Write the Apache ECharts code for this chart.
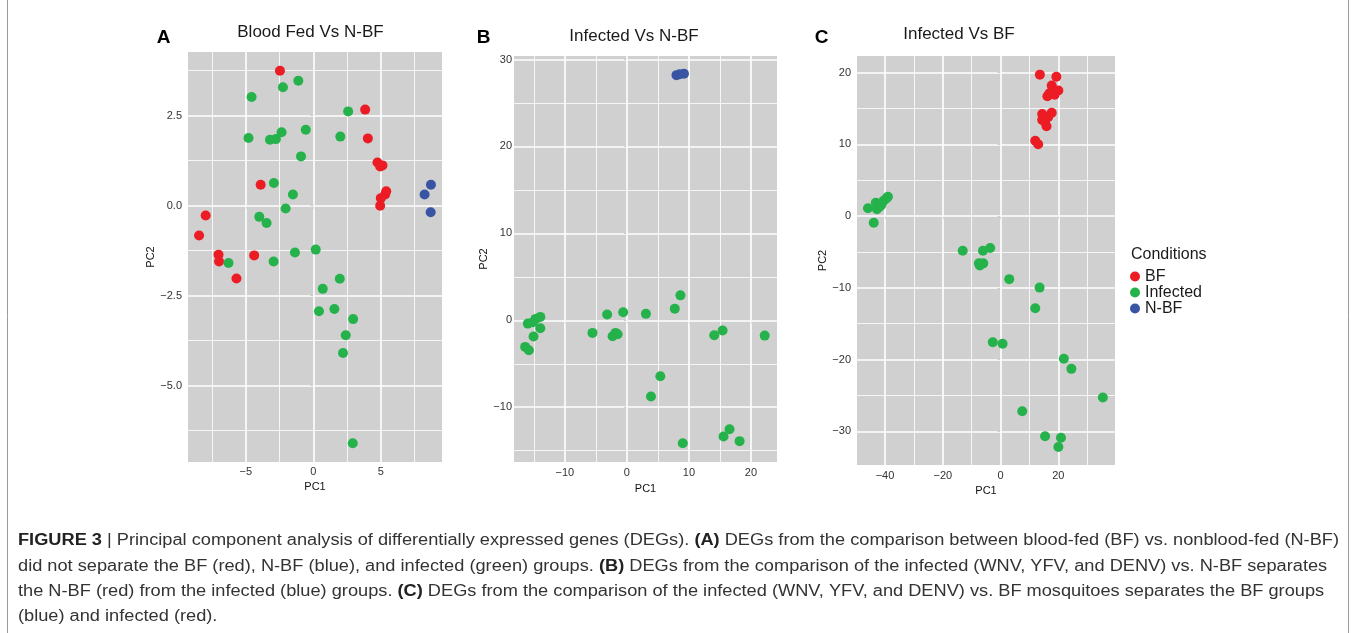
<!DOCTYPE html>
<html><head><meta charset="utf-8">
<script src="https://cdn.jsdelivr.net/npm/echarts@6/dist/echarts.min.js"></script>
<style>html,body{margin:0;padding:0;background:#fff}#c{width:1356px;height:633px}</style>
</head><body><div id="c"></div>
<script>
// ---------------- DATA ----------------
const groupNames = ['BF', 'Infected', 'N-BF'];

// Panel A: Blood Fed Vs N-BF
const aTitle = 'Blood Fed Vs N-BF';
const aBF = [[-2.47,3.75],[3.84,2.67],[4.04,1.87],[4.75,1.20],[4.95,1.09],[5.12,1.12],[5.40,0.40],[5.32,0.31],[5.0,0.21],[4.95,0.0],[-3.9,0.58],[-7.97,-0.27],[-8.46,-0.83],[-7.02,-1.36],[-6.98,-1.55],[-5.69,-2.02],[-4.38,-1.38]];
const aInfected = [[-4.57,3.02],[-2.25,3.29],[-1.11,3.47],[2.58,2.62],[-4.8,1.88],[-3.21,1.83],[-2.77,1.85],[-2.35,2.04],[-0.56,2.11],[2.0,1.92],[-0.91,1.37],[-2.92,0.63],[-1.51,0.31],[-2.05,-0.08],[-4.0,-0.31],[-3.46,-0.48],[-1.36,-1.30],[0.18,-1.22],[-2.94,-1.55],[-6.28,-1.59],[1.96,-2.03],[0.70,-2.31],[0.42,-2.93],[1.56,-2.87],[2.95,-3.15],[2.40,-3.60],[2.2,-4.09],[2.92,-6.6]];
const aNBF = [[8.71,0.58],[8.24,0.31],[8.69,-0.18]];
const aXTicks = [-5, 0, 5];
const aYTicks = [-5, -2.5, 0, 2.5];
const aXMinor = [-7.5, -2.5, 2.5, 7.5];
const aYMinor = [-6.25, -3.75, -1.25, 1.25, 3.75];

// Panel B: Infected Vs N-BF
const bTitle = 'Infected Vs N-BF';
const bInfected = [[-15.97,-0.38],[-15.16,-0.23],[-14.72,0.16],[-13.96,0.39],[-13.96,-0.92],[-15.05,-1.87],[-16.4,-3.06],[-15.8,-3.45],[-5.55,-1.45],[-3.18,0.66],[-0.6,0.92],[-2.31,-1.84],[-1.83,-1.45],[-1.5,-1.6],[3.07,0.74],[7.72,1.34],[8.63,2.87],[14.08,-1.72],[15.43,-1.18],[22.22,-1.76],[5.39,-6.44],[3.88,-8.76],[9.01,-14.14],[15.58,-13.37],[16.55,-12.53],[18.17,-13.9]];
const bNBF = [[8.0,28.2],[8.5,28.3],[9.2,28.35]];
const bXTicks = [-10, 0, 10, 20];
const bYTicks = [-10, 0, 10, 20, 30];
const bXMinor = [-15, -5, 5, 15];
const bYMinor = [-15, -5, 5, 15, 25];

// Panel C: Infected Vs BF
const cTitle = 'Infected Vs BF';
const cBF = [[13.6,19.7],[19.3,19.4],[17.7,18.2],[16.9,17.1],[18.5,17.3],[20.0,17.5],[16.2,16.7],[18.7,16.9],[14.4,14.2],[17.7,14.4],[16.5,13.8],[14.4,13.4],[15.4,13.1],[15.9,12.5],[12.0,10.5],[13.0,10.0]];
const cInfected = [[-45.9,1.07],[-43.2,1.85],[-42.8,0.93],[-41.3,1.53],[-40.5,2.13],[-39.5,2.46],[-39.0,2.69],[-41.9,1.3],[-43.9,-0.93],[-13.1,-4.83],[-6.1,-4.83],[-3.6,-4.46],[-7.5,-6.6],[-6.0,-6.6],[-7.2,-6.9],[3.0,-8.8],[13.5,-9.98],[12.0,-12.86],[-2.7,-17.6],[0.7,-17.8],[21.9,-19.9],[24.5,-21.3],[35.4,-25.3],[7.5,-27.2],[15.4,-30.7],[20.9,-30.9],[20.0,-32.2]];
const cXTicks = [-40, -20, 0, 20];
const cYTicks = [-30, -20, -10, 0, 10, 20];
const cXMinor = [-30, -10, 10, 30];
const cYMinor = [-25, -15, -5, 5, 15];

const legendTitle = 'Conditions';
const captionLines = [
  [['FIGURE 3', 1], [' | Principal component analysis of differentially expressed genes (DEGs). ', 0], ['(A)', 1], [' DEGs from the comparison between blood-fed (BF) vs. nonblood-fed (N-BF)', 0]],
  [['did not separate the BF (red), N-BF (blue), and infected (green) groups. ', 0], ['(B)', 1], [' DEGs from the comparison of the infected (WNV, YFV, and DENV) vs. N-BF separates', 0]],
  [['the N-BF (red) from the infected (blue) groups. ', 0], ['(C)', 1], [' DEGs from the comparison of the infected (WNV, YFV, and DENV) vs. BF mosquitoes separates the BF groups', 0]],
  [['(blue) and infected (red).', 0]]
];

// ---------------- STYLE / LAYOUT ----------------
const FONT = '"Liberation Sans", Arial, Helvetica, sans-serif';
const CAPFAMILY = '"Liberation Sans Narrow", "Liberation Sans", Arial, sans-serif';
const colors = { 'BF': '#ec1c24', 'Infected': '#26b24b', 'N-BF': '#3a54a4' };
const panelBg = '#d0d0d0';
const minus = v => String(v).replace('-', '\u2212');

const panels = [
  { letter: 'A', title: aTitle, titleX: 310.5, titleY: 32.5, letterX: 163.5, letterY: 37.5,
    grid: { left: 188, top: 52, width: 254, height: 410 }, xr: [-9.28, 9.53], yr: [-7.12, 4.27],
    xt: aXTicks, yt: aYTicks, xm: aXMinor, ym: aYMinor, yFmt: v => minus(Number(v).toFixed(1)),
    yMargin: 6, xMargin: 4, xGap: 18.5, yGap: 25,
    series: { 'BF': aBF, 'Infected': aInfected, 'N-BF': aNBF } },
  { letter: 'B', title: bTitle, titleX: 634, titleY: 36.5, letterX: 483.5, letterY: 37.5,
    grid: { left: 514, top: 56, width: 263, height: 406 }, xr: [-18.2, 24.2], yr: [-16.3, 30.4],
    xt: bXTicks, yt: bYTicks, xm: bXMinor, ym: bYMinor, yFmt: v => minus(v),
    yMargin: 2, xMargin: 5, xGap: 21, yGap: 17,
    series: { 'Infected': bInfected, 'N-BF': bNBF } },
  { letter: 'C', title: cTitle, titleX: 959, titleY: 34.5, letterX: 821.5, letterY: 37.5,
    grid: { left: 857, top: 56, width: 258, height: 409 }, xr: [-49.7, 39.6], yr: [-34.7, 22.3],
    xt: cXTicks, yt: cYTicks, xm: cXMinor, ym: cYMinor, yFmt: v => minus(v),
    yMargin: 6, xMargin: 5, xGap: 16.5, yGap: 23,
    series: { 'BF': cBF, 'Infected': cInfected } }
];

const grids = [], xAxes = [], yAxes = [], series = [], graphics = [];
panels.forEach((p, i) => {
  grids.push(Object.assign({ show: true, backgroundColor: panelBg, borderWidth: 0, containLabel: false }, p.grid));
  xAxes.push({
    gridIndex: i, type: 'value', min: p.xr[0], max: p.xr[1],
    axisLine: { show: false }, splitLine: { show: false },
    axisTick: { show: true, customValues: p.xt, length: 3, lineStyle: { color: '#333', width: 1 } },
    axisLabel: { customValues: p.xt, formatter: v => minus(v), color: '#333', fontSize: 11, fontFamily: FONT, margin: p.xMargin },
    name: 'PC1', nameLocation: 'middle', nameGap: p.xGap,
    nameTextStyle: { color: '#111', fontSize: 11, fontFamily: FONT }
  });
  yAxes.push({
    gridIndex: i, type: 'value', min: p.yr[0], max: p.yr[1],
    axisLine: { show: false }, splitLine: { show: false },
    axisTick: { show: true, customValues: p.yt, length: 3, lineStyle: { color: '#333', width: 1 } },
    axisLabel: { customValues: p.yt, formatter: p.yFmt, color: '#333', fontSize: 11, fontFamily: FONT, margin: p.yMargin },
    name: 'PC2', nameLocation: 'middle', nameGap: p.yGap, nameRotate: 90,
    nameTextStyle: { color: '#111', fontSize: 11, fontFamily: FONT }
  });
  const ml = [];
  p.xm.forEach(v => ml.push({ xAxis: v, lineStyle: { color: '#fff', width: 0.8, type: 'solid' } }));
  p.ym.forEach(v => ml.push({ yAxis: v, lineStyle: { color: '#fff', width: 0.8, type: 'solid' } }));
  p.xt.forEach(v => ml.push({ xAxis: v, lineStyle: { color: '#fff', width: 1.6, type: 'solid' } }));
  p.yt.forEach(v => ml.push({ yAxis: v, lineStyle: { color: '#fff', width: 1.6, type: 'solid' } }));
  series.push({
    type: 'scatter', xAxisIndex: i, yAxisIndex: i, data: [], silent: true, z: 1,
    markLine: { silent: true, symbol: ['none', 'none'], label: { show: false }, animation: false, z: 1,
      emphasis: { disabled: true }, data: ml }
  });
  groupNames.forEach(n => {
    if (!p.series[n]) return;
    series.push({
      type: 'scatter', name: n, xAxisIndex: i, yAxisIndex: i, data: p.series[n],
      symbolSize: 10, itemStyle: { color: colors[n], opacity: 1 }, z: 10, silent: true,
      emphasis: { disabled: true }
    });
  });
  graphics.push({ type: 'text', x: p.titleX, y: p.titleY,
    style: { text: p.title, font: '17px ' + FONT, fill: '#1a1a1a', align: 'center', verticalAlign: 'middle', textAlign: 'center', textVerticalAlign: 'middle' } });
  graphics.push({ type: 'text', x: p.letterX, y: p.letterY,
    style: { text: p.letter, font: 'bold 19px ' + FONT, fill: '#000', align: 'center', verticalAlign: 'middle', textAlign: 'center', textVerticalAlign: 'middle' } });
});

// legend title
graphics.push({ type: 'text', x: 1131, y: 255,
  style: { text: legendTitle, font: '16px ' + FONT, fill: '#1a1a1a', align: 'left', verticalAlign: 'middle', textAlign: 'left', textVerticalAlign: 'middle' } });

// caption
const ctx = document.createElement('canvas').getContext('2d');
function segWidth(segs) {
  let w = 0;
  segs.forEach(s => { ctx.font = (s[1] ? 'bold ' : '') + '16px ' + CAPFAMILY; w += ctx.measureText(s[0]).width; });
  return w;
}
const capScale = 1321 / segWidth(captionLines[0]);
const capY = [541, 566.5, 591.5, 616.5];
captionLines.forEach((segs, k) => {
  const txt = segs.map(s => '{' + (s[1] ? 'b' : 'n') + '|' + s[0] + '}').join('');
  graphics.push({ type: 'text', x: 18, y: capY[k], scaleX: capScale,
    style: { text: txt, align: 'left', verticalAlign: 'middle', textAlign: 'left', textVerticalAlign: 'middle',
      rich: {
        n: { fontSize: 16, fontFamily: CAPFAMILY, fontWeight: 'normal', fill: '#333', color: '#333' },
        b: { fontSize: 16, fontFamily: CAPFAMILY, fontWeight: 'bold', fill: '#222', color: '#222' }
      } } });
});
// figure frame
graphics.push({ type: 'line', shape: { x1: 7.5, y1: 0, x2: 7.5, y2: 633 }, style: { stroke: '#9a9a9a', lineWidth: 1 } });
graphics.push({ type: 'line', shape: { x1: 1348.5, y1: 0, x2: 1348.5, y2: 633 }, style: { stroke: '#9a9a9a', lineWidth: 1 } });

const chart = echarts.init(document.getElementById('c'), null, { renderer: 'canvas' });
chart.setOption({
  backgroundColor: '#fff',
  animation: false,
  grid: grids, xAxis: xAxes, yAxis: yAxes, series: series,
  legend: { data: groupNames, orient: 'vertical', left: 1130, top: 268.5, padding: 0, itemGap: 0,
    itemWidth: 10, itemHeight: 10, icon: 'circle', selectedMode: false,
    textStyle: { fontSize: 16, color: '#1a1a1a', fontFamily: FONT } },
  graphic: { elements: graphics }
});
</script></body></html>
